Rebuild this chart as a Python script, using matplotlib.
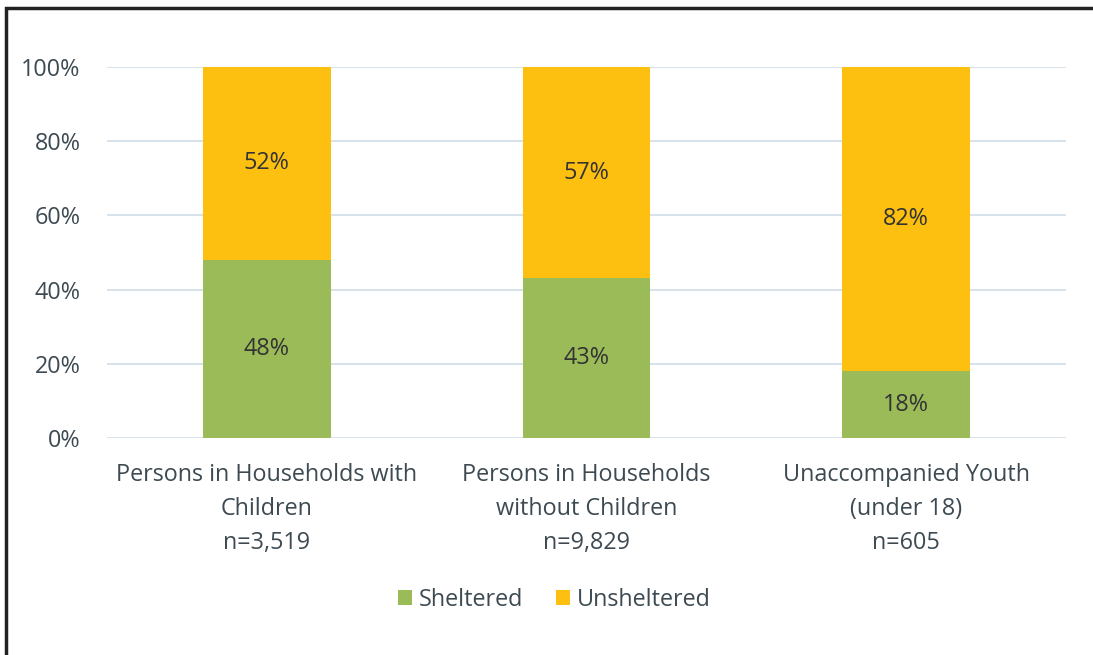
import matplotlib.pyplot as plt
from matplotlib.patches import Rectangle

categories = ["Persons in Households with\nChildren\nn=3,519",
              "Persons in Households\nwithout Children\nn=9,829",
              "Unaccompanied Youth\n(under 18)\nn=605"]
sheltered = [48, 43, 18]
unsheltered = [52, 57, 82]

GREEN = "#9BBB59"
ORANGE = "#FDC011"
TEXT = "#3d4a52"
FS = 16.8

plt.rcParams["font.family"] = ["Open Sans", "DejaVu Sans"]

fig = plt.figure(figsize=(10.93, 6.55), dpi=100)
ax = fig.add_axes([107 / 1093, 1 - 438 / 655, 959 / 1093, 371 / 655])

x = range(len(categories))
b1 = ax.bar(x, sheltered, width=0.4, color=GREEN, label="Sheltered", zorder=3)
b2 = ax.bar(x, unsheltered, width=0.4, bottom=sheltered, color=ORANGE,
            label="Unsheltered", zorder=3)

for rect, v in zip(b1, sheltered):
    ax.text(rect.get_x() + rect.get_width() / 2, rect.get_y() + v / 2, f"{v}%",
            ha="center", va="center", fontsize=FS, color="#333333", zorder=4)
for rect, v, s in zip(b2, unsheltered, sheltered):
    ax.text(rect.get_x() + rect.get_width() / 2, s + v / 2, f"{v}%",
            ha="center", va="center", fontsize=FS, color="#333333", zorder=4)

ax.set_xlim(-0.5, 2.5)
ax.set_ylim(0, 100)
ax.set_yticks(range(0, 101, 20))
ax.set_yticklabels([f"{t}%" for t in range(0, 101, 20)])
ax.set_xticks(list(x))
ax.set_xticklabels(categories, linespacing=1.55)
ax.tick_params(length=0, labelsize=FS, colors=TEXT)
ax.tick_params(axis="x", pad=18)
ax.tick_params(axis="y", pad=19)
ax.grid(axis="y", color="#d3dfe8", linewidth=1.3, zorder=0)
for s in ax.spines.values():
    s.set_visible(False)

fig.legend(handles=[b1, b2], loc="center", bbox_to_anchor=(554 / 1093, 1 - 600 / 655),
           ncol=2, frameon=False, fontsize=FS, labelcolor=TEXT,
           handlelength=0.6, handleheight=0.6, handletextpad=0.3, columnspacing=1.4)

fig.patches.append(Rectangle((6 / 1093, -0.1), 1.2, 1.1 - 8 / 655,
                             transform=fig.transFigure, fill=False,
                             edgecolor="#222222", linewidth=2.5, clip_on=False))

fig.savefig("out.png", dpi=100)
